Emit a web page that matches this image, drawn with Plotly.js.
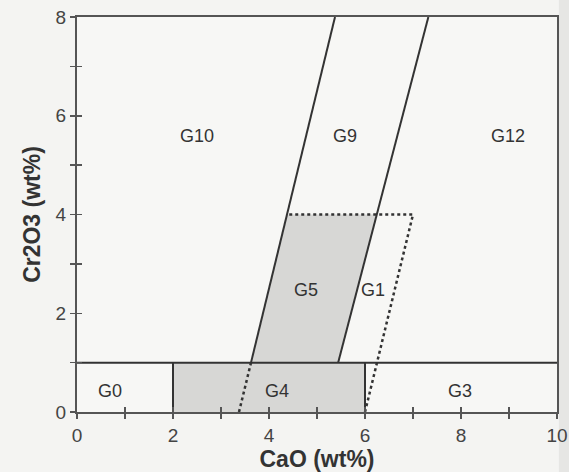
<!DOCTYPE html>
<html><head><meta charset="utf-8">
<script src="https://cdn.plot.ly/plotly-3.0.1.min.js"></script>
<style>html,body{margin:0;padding:0;background:#f4f4f2}</style>
</head><body><div id="chart" style="width:569px;height:472px"></div>
<script>
// Grey fields
const g4X = [2, 6, 6, 2, 2];
const g4Y = [0, 0, 1, 1, 0];
const g5X = [3.625, 5.44, 6.25, 4.375, 3.625];
const g5Y = [1, 1, 4, 4, 1];
// Solid boundaries
const baseX = [0, 10];
const baseY = [1, 1];
const leftVX = [2, 2];
const rightVX = [6, 6];
const vY = [0, 1];
const g10g9X = [3.625, 5.375];
const g10g9Y = [1, 8];
const g9g12X = [5.44, 7.32];
const g9g12Y = [1, 8];
// Dotted boundaries
const dotLowX = [3.375, 3.625];
const dotLowY = [0, 1];
const dotBoxX = [6, 7.0, 4.375];
const dotBoxY = [0, 4, 4];
// Field labels
const labelText = ["G10", "G9", "G12", "G5", "G1", "G0", "G4", "G3"];
const labelX = [2.5, 5.58, 8.98, 4.78, 6.17, 0.69, 4.16, 7.98];
const labelY = [5.6, 5.6, 5.6, 2.47, 2.47, 0.43, 0.43, 0.43];

const lc = '#333333';
const solid = {color: lc, width: 2};
const dotted = {color: lc, width: 2.5, dash: 'dot'};
const traces = [
  {x: g4X, y: g4Y, fill: 'toself', fillcolor: '#d7d7d5', mode: 'lines', line: {width: 0}, hoverinfo: 'skip'},
  {x: g5X, y: g5Y, fill: 'toself', fillcolor: '#d7d7d5', mode: 'lines', line: {width: 0}, hoverinfo: 'skip'},
  {x: baseX, y: baseY, mode: 'lines', line: solid},
  {x: leftVX, y: vY, mode: 'lines', line: solid},
  {x: rightVX, y: vY, mode: 'lines', line: solid},
  {x: g10g9X, y: g10g9Y, mode: 'lines', line: solid},
  {x: g9g12X, y: g9g12Y, mode: 'lines', line: solid},
  {x: dotLowX, y: dotLowY, mode: 'lines', line: dotted},
  {x: dotBoxX, y: dotBoxY, mode: 'lines', line: dotted},
  {x: [0], y: [0], xaxis: 'x2', yaxis: 'y2', mode: 'markers', marker: {opacity: 0}, hoverinfo: 'skip'}
];
const ff = 'Liberation Sans, Arial, sans-serif';
const tickFont = {family: ff, size: 19, color: '#444'};
const axBase = {
  range: [0, 10], dtick: 2, tick0: 0, ticks: 'outside', ticklen: 5, tickwidth: 1.5, tickcolor: '#555',
  minor: {dtick: 1, ticks: 'outside', ticklen: 5, tickwidth: 1.5, tickcolor: '#555'},
  showgrid: false, zeroline: false, showline: true, linecolor: '#555', linewidth: 2, mirror: true,
  tickfont: tickFont
};
const layout = {
  width: 569, height: 472,
  margin: {l: 77, r: 12, t: 17, b: 60},
  paper_bgcolor: '#f4f4f2', plot_bgcolor: '#f7f7f5',
  showlegend: false,
  xaxis: Object.assign({}, axBase, {
    range: [0, 10],
    title: {text: 'CaO (wt%)', standoff: 5, font: {family: ff, size: 23, color: '#333', weight: 'bold'}}
  }),
  yaxis: Object.assign({}, axBase, {
    range: [0, 8],
    title: {text: 'Cr2O3 (wt%)', standoff: 9, font: {family: ff, size: 23, color: '#333', weight: 'bold'}}
  }),
  xaxis2: {overlaying: 'x', range: [0, 10], dtick: 1, ticks: 'inside', ticklen: 5, tickwidth: 1.5, tickcolor: '#555', showticklabels: false, showgrid: false, zeroline: false, showline: false, side: 'bottom', anchor: 'y2'},
  yaxis2: {overlaying: 'y', range: [0, 8], dtick: 1, ticks: 'inside', ticklen: 5, tickwidth: 1.5, tickcolor: '#555', showticklabels: false, showgrid: false, zeroline: false, showline: false, side: 'left', anchor: 'x2'},
  annotations: labelText.map((t, i) => ({
    x: labelX[i], y: labelY[i], text: t, showarrow: false,
    font: {family: ff, size: 18, color: '#333'}
  })),
  shapes: [
    {type: 'rect', xref: 'paper', yref: 'paper', x0: 1.004, x1: 1.03, y0: -0.2, y1: 1.1, fillcolor: '#e6e6e4', line: {width: 0}, layer: 'below'}
  ]
};
Plotly.newPlot('chart', traces, layout, {displayModeBar: false, staticPlot: true});
</script></body></html>
